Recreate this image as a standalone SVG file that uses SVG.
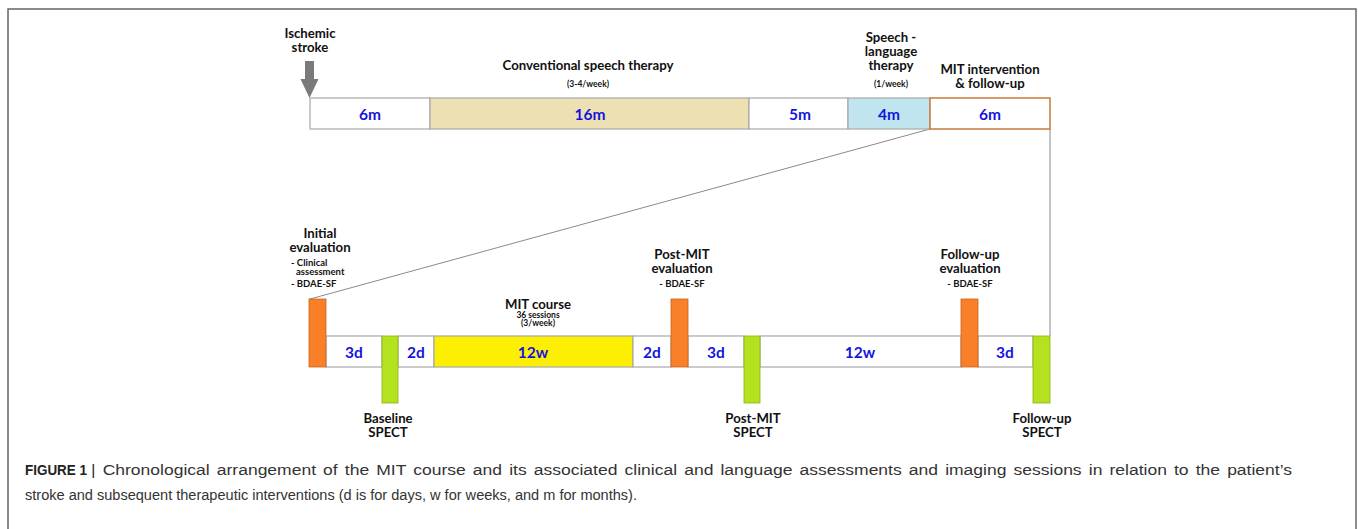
<svg xmlns="http://www.w3.org/2000/svg" width="1358" height="529" viewBox="0 0 1358 529">
<style>
.lbl{font-family:Lato,"Open Sans",sans-serif;font-weight:bold;fill:#111;text-anchor:middle}
.t12{font-size:13.2px}
.t9{font-size:9.5px}
.t8{font-size:8.5px}
.st{text-anchor:start}
.dur{font-family:Lato,"Open Sans",sans-serif;font-weight:bold;font-size:15.5px;fill:#1414E0;text-anchor:middle}
.seg{stroke:#A8A8A8;stroke-width:1.2}
.orange{fill:#F98028;stroke:#C8641C;stroke-width:0.8}
.green{fill:#B5E21E;stroke:#8EAF18;stroke-width:0.8}
.conn{stroke:#8A8A8A;stroke-width:1;fill:none}
.cap{font-family:"Liberation Sans",Arial,sans-serif;font-size:15.5px;fill:#333}
</style>
<rect x="8" y="9" width="1348" height="540" fill="#fff" stroke="#666" stroke-width="1.5"/>

<g id="connectors">
<line class="conn" x1="930" y1="129" x2="310" y2="299"/>
<line class="conn" x1="1050" y1="129" x2="1050" y2="336"/>
</g>

<g id="stroke-arrow">
<rect x="305" y="61" width="9" height="19" fill="#7A7A7A"/>
<polygon points="300.5,79 318.5,79 309.5,98" fill="#7A7A7A"/>
<text class="lbl t12" x="310" y="38">Ischemic</text>
<text class="lbl t12" x="310" y="52">stroke</text>
</g>

<g id="top-6m">
<rect class="seg" x="310" y="98" width="120" height="31" fill="#fff"/>
<text class="dur" x="370" y="120">6m</text>
</g>
<g id="top-16m">
<rect class="seg" x="430" y="98" width="319" height="31" fill="#EDE1B3"/>
<text class="dur" x="590" y="120">16m</text>
<text class="lbl t12" x="588" y="70">Conventional speech therapy</text>
<text class="lbl t8" x="588" y="87">(3-4/week)</text>
</g>
<g id="top-5m">
<rect class="seg" x="749" y="98" width="99" height="31" fill="#fff"/>
<text class="dur" x="800" y="120">5m</text>
</g>
<g id="top-4m">
<rect class="seg" x="848" y="98" width="82" height="31" fill="#C1E5EF"/>
<text class="dur" x="889" y="120">4m</text>
<text class="lbl t12" x="891" y="42">Speech -</text>
<text class="lbl t12" x="891" y="56">language</text>
<text class="lbl t12" x="891" y="70">therapy</text>
<text class="lbl t8" x="891" y="87">(1/week)</text>
</g>
<g id="top-6m-mit">
<rect x="930" y="98" width="120" height="31" fill="#fff" stroke="#C67A3A" stroke-width="1.5"/>
<text class="dur" x="990" y="120">6m</text>
<text class="lbl t12" x="990" y="74">MIT intervention</text>
<text class="lbl t12" x="990" y="88">&amp; follow-up</text>
</g>

<g id="low-bar">
<rect class="seg" x="326" y="336" width="56" height="31" fill="#fff"/>
<text class="dur" x="354" y="358">3d</text>
<rect class="seg" x="398" y="336" width="36" height="31" fill="#fff"/>
<text class="dur" x="416" y="358">2d</text>
<rect class="seg" x="434" y="336" width="199" height="31" fill="#FCF000"/>
<text class="dur" x="533" y="358">12w</text>
<rect class="seg" x="633" y="336" width="38" height="31" fill="#fff"/>
<text class="dur" x="652" y="358">2d</text>
<rect class="seg" x="688" y="336" width="56" height="31" fill="#fff"/>
<text class="dur" x="716" y="358">3d</text>
<rect class="seg" x="760" y="336" width="201" height="31" fill="#fff"/>
<text class="dur" x="860" y="358">12w</text>
<rect class="seg" x="978" y="336" width="55" height="31" fill="#fff"/>
<text class="dur" x="1005" y="358">3d</text>
<text class="lbl t12" x="538" y="309">MIT course</text>
<text class="lbl t8" x="538" y="318">36 sessions</text>
<text class="lbl t8" x="538" y="326">(3/week)</text>
</g>

<g id="initial-eval">
<rect class="orange" x="309" y="299" width="17" height="68"/>
<text class="lbl t12" x="320" y="238">Initial</text>
<text class="lbl t12" x="320" y="252">evaluation</text>
<text class="lbl t9 st" x="291" y="266">- Clinical</text>
<text class="lbl t9 st" x="296" y="275">assessment</text>
<text class="lbl t9 st" x="291" y="287">- BDAE-SF</text>
</g>

<g id="baseline-spect">
<rect class="green" x="382" y="336" width="16" height="67"/>
<text class="lbl t12" x="388" y="423">Baseline</text>
<text class="lbl t12" x="388" y="437">SPECT</text>
</g>

<g id="postmit-eval">
<rect class="orange" x="671" y="299" width="17" height="68"/>
<text class="lbl t12" x="682" y="259">Post-MIT</text>
<text class="lbl t12" x="682" y="273">evaluation</text>
<text class="lbl t9" x="682" y="287">- BDAE-SF</text>
</g>

<g id="postmit-spect">
<rect class="green" x="744" y="336" width="16" height="67"/>
<text class="lbl t12" x="753" y="423">Post-MIT</text>
<text class="lbl t12" x="753" y="437">SPECT</text>
</g>

<g id="followup-eval">
<rect class="orange" x="961" y="299" width="17" height="68"/>
<text class="lbl t12" x="970" y="259">Follow-up</text>
<text class="lbl t12" x="970" y="273">evaluation</text>
<text class="lbl t9" x="970" y="287">- BDAE-SF</text>
</g>

<g id="followup-spect">
<rect class="green" x="1033" y="336" width="17" height="67"/>
<text class="lbl t12" x="1042" y="423">Follow-up</text>
<text class="lbl t12" x="1042" y="437">SPECT</text>
</g>

<g id="caption">
<text class="cap" x="25" y="475" textLength="62" lengthAdjust="spacingAndGlyphs" style="font-weight:bold;fill:#222">FIGURE 1</text>
<text class="cap" x="91" y="475" textLength="1201" lengthAdjust="spacingAndGlyphs" style="word-spacing:2px">| Chronological arrangement of the MIT course and its associated clinical and language assessments and imaging sessions in relation to the patient’s</text>
<text class="cap" x="25" y="500" textLength="612" lengthAdjust="spacingAndGlyphs">stroke and subsequent therapeutic interventions (d is for days, w for weeks, and m for months).</text>
</g>
</svg>
